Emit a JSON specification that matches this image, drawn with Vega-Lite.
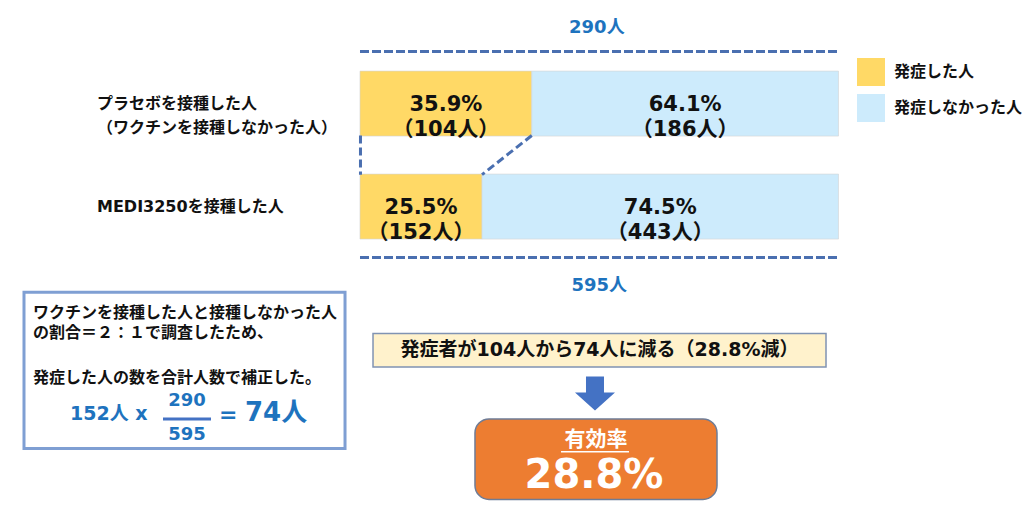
{
  "$schema": "https://vega.github.io/schema/vega-lite/v6.json",
  "width": 1033,
  "height": 523,
  "padding": 0,
  "autosize": {"type": "none"},
  "background": "white",
  "view": {"stroke": null},
  "config": {
    "axis": {"disable": true},
    "text": {"font": "'DejaVu Sans', 'Noto Sans CJK JP', sans-serif", "fontWeight": "bold", "color": "#111111"}
  },
  "datasets": {
    "bars": [
      {"group": "プラセボを接種した人", "row": 1, "status": "発症した人", "pct": 35.9, "n": 104, "order": 1},
      {"group": "プラセボを接種した人", "row": 1, "status": "発症しなかった人", "pct": 64.1, "n": 186, "order": 2},
      {"group": "MEDI3250を接種した人", "row": 2, "status": "発症した人", "pct": 25.5, "n": 152, "order": 1},
      {"group": "MEDI3250を接種した人", "row": 2, "status": "発症しなかった人", "pct": 74.5, "n": 443, "order": 2}
    ]
  },
  "data": {"values": [{}]},
  "layer": [
    {
      "data": {"name": "bars"},
      "transform": [{"stack": "pct", "groupby": ["row"], "sort": [{"field": "order"}], "as": ["x0", "x1"]}],
      "mark": {"type": "bar", "orient": "horizontal", "size": 65, "stroke": "#d4d4d4", "strokeWidth": 0.6},
      "encoding": {
        "x": {"field": "x0", "type": "quantitative", "scale": {"domain": [-75.235, 140.648], "nice": false, "zero": false}, "axis": null},
        "x2": {"field": "x1"},
        "y": {"field": "row", "type": "quantitative", "scale": {"domain": [0.04286, 5.0238], "reverse": true, "nice": false, "zero": false}, "axis": null},
        "color": {
          "field": "status", "type": "nominal",
          "scale": {"domain": ["発症した人", "発症しなかった人"], "range": ["#FFD966", "#CDEBFC"]},
          "legend": {
            "title": null, "orient": "none", "legendX": 857, "legendY": 58,
            "symbolType": "square", "symbolSize": 784, "symbolStrokeWidth": 0, "symbolOpacity": 1,
            "labelFont": "'DejaVu Sans', 'Noto Sans CJK JP', sans-serif", "labelFontWeight": "bold",
            "labelFontSize": 16, "labelColor": "#111111", "labelOffset": 9, "rowPadding": 8, "padding": 0
          }
        }
      }
    },
    {
      "data": {"name": "bars"},
      "transform": [
        {"stack": "pct", "groupby": ["row"], "sort": [{"field": "order"}], "as": ["x0", "x1"]},
        {"calculate": "(datum.x0 + datum.x1) / 2", "as": "mid"},
        {"calculate": "format(datum.pct, '.1f') + '%\\n（' + datum.n + '人）'", "as": "label"}
      ],
      "mark": {"type": "text", "fontSize": 21, "lineBreak": "\n", "lineHeight": 25, "baseline": "middle", "align": "center", "dy": 1},
      "encoding": {
        "x": {"field": "mid", "type": "quantitative"},
        "y": {"field": "row", "type": "quantitative"},
        "text": {"field": "label"}
      }
    },
    {
      "data": {"name": "bars"},
      "transform": [{"filter": "datum.order == 1"}],
      "mark": {"type": "text", "fontSize": 16, "align": "left", "baseline": "middle"},
      "encoding": {
        "x": {"datum": -54.96, "type": "quantitative"},
        "y": {"field": "row", "type": "quantitative"},
        "text": {"field": "group"}
      }
    },
    {
      "mark": {"type": "text", "text": "（ワクチンを接種しなかった人）", "fontSize": 16, "align": "left", "baseline": "middle"},
      "encoding": {"x": {"datum": -54.96, "type": "quantitative"}, "y": {"datum": 1.233, "type": "quantitative"}}
    },
    {
      "mark": {"type": "text", "text": "290人", "fontSize": 18, "color": "#1E73BE", "align": "center", "baseline": "middle"},
      "encoding": {"x": {"datum": 49.5, "type": "quantitative"}, "y": {"datum": 0.262, "type": "quantitative"}}
    },
    {
      "mark": {"type": "text", "text": "595人", "fontSize": 18, "color": "#1E73BE", "align": "center", "baseline": "middle"},
      "encoding": {"x": {"datum": 50, "type": "quantitative"}, "y": {"datum": 2.776, "type": "quantitative"}}
    },
    {
      "mark": {"type": "rule", "color": "#4A6FB0", "strokeWidth": 3, "strokeDash": [9, 3]},
      "encoding": {"x": {"datum": 0, "type": "quantitative"}, "x2": {"datum": 100}, "y": {"datum": 0.495, "type": "quantitative"}}
    },
    {
      "mark": {"type": "rule", "color": "#4A6FB0", "strokeWidth": 3, "strokeDash": [9, 3]},
      "encoding": {"x": {"datum": 0, "type": "quantitative"}, "x2": {"datum": 100}, "y": {"datum": 2.495, "type": "quantitative"}}
    },
    {
      "mark": {"type": "rule", "color": "#4A6FB0", "strokeWidth": 3, "strokeDash": [8, 4]},
      "encoding": {"x": {"datum": 0.1, "type": "quantitative"}, "y": {"datum": 1.31, "type": "quantitative"}, "y2": {"datum": 1.69}}
    },
    {
      "mark": {"type": "rule", "color": "#4A6FB0", "strokeWidth": 3, "strokeDash": [8, 4]},
      "encoding": {"x": {"datum": 35.9, "type": "quantitative"}, "x2": {"datum": 25.5}, "y": {"datum": 1.31, "type": "quantitative"}, "y2": {"datum": 1.69}}
    },
    {
      "mark": {"type": "rect", "fill": "white", "stroke": "#7F9FD3", "strokeWidth": 3},
      "encoding": {"x": {"datum": -70.22, "type": "quantitative"}, "x2": {"datum": -3.13}, "y": {"datum": 2.833, "type": "quantitative"}, "y2": {"datum": 4.348}}
    },
    {
      "mark": {"type": "text", "text": "ワクチンを接種した人と接種しなかった人", "fontSize": 16, "align": "left", "baseline": "middle"},
      "encoding": {"x": {"datum": -68.34, "type": "quantitative"}, "y": {"datum": 3.033, "type": "quantitative"}}
    },
    {
      "mark": {"type": "text", "text": "の割合＝２：１で調査したため、", "fontSize": 16, "align": "left", "baseline": "middle"},
      "encoding": {"x": {"datum": -68.34, "type": "quantitative"}, "y": {"datum": 3.224, "type": "quantitative"}}
    },
    {
      "mark": {"type": "text", "text": "発症した人の数を合計人数で補正した。", "fontSize": 16, "align": "left", "baseline": "middle"},
      "encoding": {"x": {"datum": -68.34, "type": "quantitative"}, "y": {"datum": 3.662, "type": "quantitative"}}
    },
    {
      "mark": {"type": "text", "text": "152人 x", "fontSize": 19, "color": "#1E73BE", "align": "left", "baseline": "middle"},
      "encoding": {"x": {"datum": -60.61, "type": "quantitative"}, "y": {"datum": 4.014, "type": "quantitative"}}
    },
    {
      "mark": {"type": "text", "text": "290", "fontSize": 18, "color": "#1E73BE", "align": "center", "baseline": "middle"},
      "encoding": {"x": {"datum": -36.15, "type": "quantitative"}, "y": {"datum": 3.89, "type": "quantitative"}}
    },
    {
      "mark": {"type": "rule", "color": "#4472C4", "strokeWidth": 3},
      "encoding": {"x": {"datum": -41.17, "type": "quantitative"}, "x2": {"datum": -31.14}, "y": {"datum": 4.062, "type": "quantitative"}}
    },
    {
      "mark": {"type": "text", "text": "595", "fontSize": 18, "color": "#1E73BE", "align": "center", "baseline": "middle"},
      "encoding": {"x": {"datum": -36.15, "type": "quantitative"}, "y": {"datum": 4.214, "type": "quantitative"}}
    },
    {
      "mark": {"type": "text", "text": "=", "fontSize": 22, "color": "#1E73BE", "align": "left", "baseline": "middle"},
      "encoding": {"x": {"datum": -29.47, "type": "quantitative"}, "y": {"datum": 4.024, "type": "quantitative"}}
    },
    {
      "mark": {"type": "text", "text": "74人", "fontSize": 26, "color": "#1E73BE", "align": "left", "baseline": "middle"},
      "encoding": {"x": {"datum": -24.03, "type": "quantitative"}, "y": {"datum": 4.005, "type": "quantitative"}}
    },
    {
      "mark": {"type": "rect", "fill": "#FFF2CC", "stroke": "#8093B3", "strokeWidth": 1.5},
      "encoding": {"x": {"datum": 2.72, "type": "quantitative"}, "x2": {"datum": 97.39}, "y": {"datum": 3.233, "type": "quantitative"}, "y2": {"datum": 3.557}}
    },
    {
      "mark": {"type": "text", "text": "発症者が104人から74人に減る（28.8%減）", "fontSize": 19, "align": "center", "baseline": "middle"},
      "encoding": {"x": {"datum": 50.05, "type": "quantitative"}, "y": {"datum": 3.395, "type": "quantitative"}}
    },
    {
      "mark": {"type": "point", "shape": "M-0.45,-0.85 L0.45,-0.85 L0.45,-0.05 L1,-0.05 L0,0.85 L-1,-0.05 L-0.45,-0.05 Z", "size": 1600, "filled": true, "fill": "#4472C4", "opacity": 1, "strokeWidth": 0},
      "encoding": {"x": {"datum": 49.11, "type": "quantitative"}, "y": {"datum": 3.814, "type": "quantitative"}}
    },
    {
      "mark": {"type": "rect", "fill": "#ED7D31", "stroke": "#6E7C96", "strokeWidth": 1.5, "cornerRadius": 14},
      "encoding": {"x": {"datum": 24.03, "type": "quantitative"}, "x2": {"datum": 74.61}, "y": {"datum": 4.062, "type": "quantitative"}, "y2": {"datum": 4.843}}
    },
    {
      "mark": {"type": "text", "text": "有効率", "fontSize": 21, "color": "white", "align": "center", "baseline": "middle"},
      "encoding": {"x": {"datum": 49.32, "type": "quantitative"}, "y": {"datum": 4.262, "type": "quantitative"}}
    },
    {
      "mark": {"type": "rule", "color": "white", "strokeWidth": 1.5},
      "encoding": {"x": {"datum": 42.01, "type": "quantitative"}, "x2": {"datum": 56.22}, "y": {"datum": 4.38, "type": "quantitative"}}
    },
    {
      "mark": {"type": "text", "text": "28.8%", "fontSize": 40, "color": "white", "align": "center", "baseline": "middle"},
      "encoding": {"x": {"datum": 48.9, "type": "quantitative"}, "y": {"datum": 4.615, "type": "quantitative"}}
    }
  ]
}
